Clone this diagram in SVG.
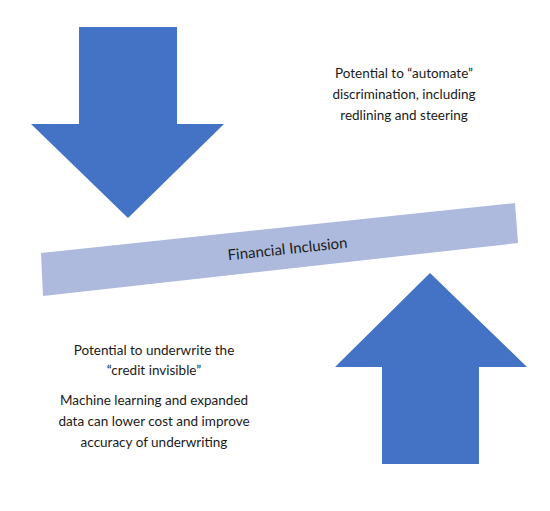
<svg xmlns="http://www.w3.org/2000/svg" width="550" height="511" viewBox="0 0 550 511">
<style>
.arrow{fill:#4472C4}
.band{fill:#AEBADD}
.t{font-family:Lato,"Liberation Sans",sans-serif;font-size:13.5px;fill:#1a1a1a;text-anchor:middle}
</style>
<rect width="550" height="511" fill="#ffffff"/>
<g id="down-arrow">
<polygon class="arrow" points="79,27 177,27 177,124 224,124 128,218 31,124 79,124"/>
</g>
<g id="up-arrow">
<polygon class="arrow" points="430,273 527,367 479,367 479,464 382,464 382,367 335,367"/>
</g>
<g id="financial-inclusion">
<polygon class="band" points="41,253 515,203 518,243 43,296"/>
<text class="t" style="font-size:15px" transform="translate(288,254) rotate(-6)" x="0" y="0">Financial Inclusion</text>
</g>
<g id="text-automate">
<text class="t" x="404" y="78">Potential to “automate”</text>
<text class="t" x="404" y="99">discrimination, including</text>
<text class="t" x="404" y="120">redlining and steering</text>
</g>
<g id="text-credit">
<text class="t" x="154" y="355">Potential to underwrite the</text>
<text class="t" x="154" y="375">“credit invisible”</text>
<text class="t" x="154" y="405">Machine learning and expanded</text>
<text class="t" x="154" y="426">data can lower cost and improve</text>
<text class="t" x="154" y="447">accuracy of underwriting</text>
</g>
</svg>
